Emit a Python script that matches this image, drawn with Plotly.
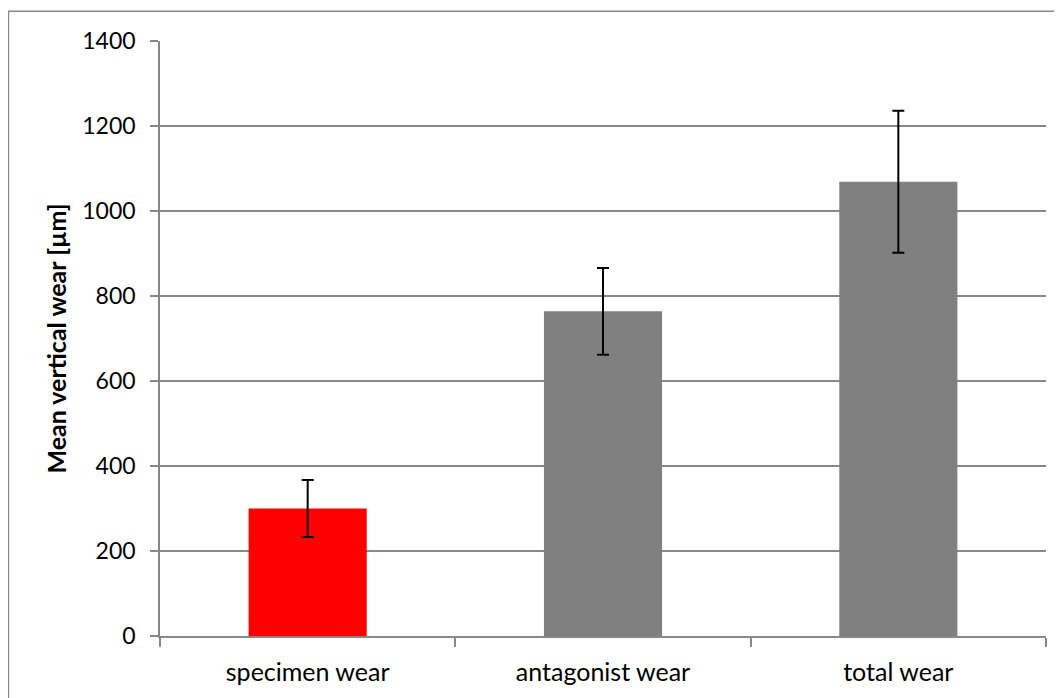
import plotly.graph_objects as go

categories = ["specimen wear", "antagonist wear", "total wear"]
means = [300, 764, 1069]
errors = [67, 102, 167]
colors = ["#FF0000", "#808080", "#808080"]
y_ticks = [0, 200, 400, 600, 800, 1000, 1200, 1400]

W, H = 1054, 690
L, R, T, B = 152, 16, 33, 59
pw, ph = W - L - R, H - T - B

fig = go.Figure(go.Bar(
    x=categories, y=means,
    marker=dict(color=colors, line=dict(width=0)),
    error_y=dict(type="data", array=errors, visible=True, color="black", thickness=2, width=6),
    width=0.4,
))

font = "Lato, Open Sans, sans-serif"
fig.update_layout(
    width=W, height=H,
    margin=dict(l=L, r=R, t=T, b=B, pad=0),
    paper_bgcolor="white", plot_bgcolor="white",
    showlegend=False,
    font=dict(family=font, size=22, color="black"),
    xaxis=dict(
        type="category", tickson="boundaries", ticks="outside", ticklen=9, tickwidth=1.5,
        tickcolor="#878787", showline=True, linecolor="#878787", linewidth=1.5,
        showgrid=False, tickfont=dict(size=25), range=[-0.5, 2.5], ticklabelstandoff=13,
    ),
    yaxis=dict(
        range=[0, 1400], tickvals=y_ticks, ticks="outside", ticklen=8, tickwidth=1.5,
        tickcolor="#878787", showline=True, linecolor="#878787", linewidth=1.5,
        showgrid=True, gridcolor="#878787", gridwidth=1.5, zeroline=False,
        tickfont=dict(size=23), ticklabelstandoff=10,
        title=dict(text="<b>Mean vertical wear [µm]</b>", font=dict(size=25), standoff=9),
    ),
    shapes=[dict(
        type="rect", xref="paper", yref="paper",
        x0=(0.5 - L) / pw, x1=(1075 - L) / pw,
        y0=(ph + T - 720) / ph, y1=(ph + T - 3) / ph,
        line=dict(color="#888888", width=1.5), fillcolor="rgba(0,0,0,0)", layer="below",
    )],
)

fig.write_html("out.html")
